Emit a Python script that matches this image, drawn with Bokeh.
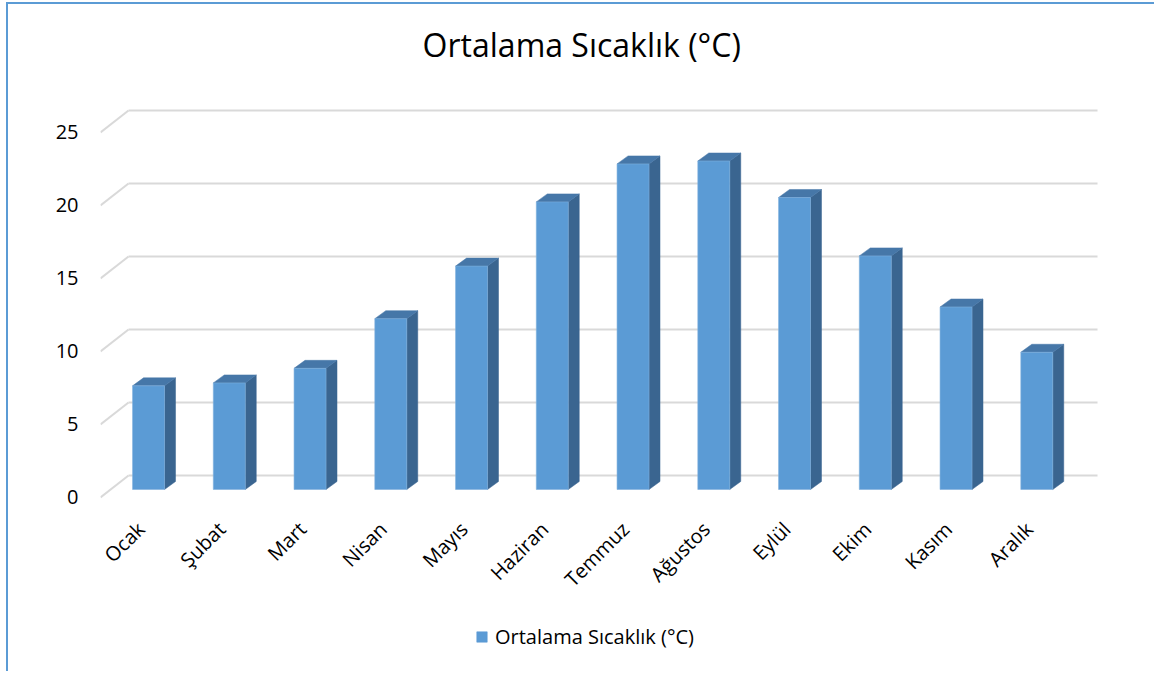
import math
from bokeh.plotting import figure
from bokeh.layouts import column, row
from bokeh.models import (ColumnDataSource, FixedTicker, Legend, LegendItem, Range1d,
                          Spacer, Div)
from bokeh.core.properties import value
from bokeh.embed import file_html
from bokeh.resources import INLINE

# ---- data ----
months = ["Ocak", "Şubat", "Mart", "Nisan", "Mayıs", "Haziran",
          "Temmuz", "Ağustos", "Eylül", "Ekim", "Kasım", "Aralık"]
temps = [7.1, 7.3, 8.3, 11.7, 15.3, 19.7, 22.3, 22.5, 20.0, 16.0, 12.5, 9.4]
y_ticks = [0, 5, 10, 15, 20, 25]
series_name = "Ortalama Sıcaklık (°C)"
chart_title = "Ortalama Sıcaklık (°C)"

# ---- pseudo-3D geometry (in data units) ----
WALL_DX, WALL_DY = 0.347, 1.507     # back wall offset
FRONT_DX, FRONT_DY = 0.095, 0.548   # bar front face offset from front plane
DEPTH_DX, DEPTH_DY = 0.136, 0.548   # bar depth
BAR_W = 0.396

# title placement (layout, in data units of the plot frame)
TITLE_X, TITLE_Y = 5.96, 31.05

FRONT = "#5B9BD5"
TOP = "#4677A8"
SIDE = "#3A6590"
GRID = "#D9D9D9"
BORDER = "#5B9BD5"
FONT = "Open Sans"

p = figure(width=1146, height=615, output_backend="svg", toolbar_location=None,
           x_range=Range1d(0, 12.384), y_range=Range1d(-0.548, 33.767),
           min_border_left=92, min_border_right=54, min_border_top=0,
           min_border_bottom=114)
p.outline_line_color = None
p.grid.visible = False
p.background_fill_color = "white"
p.border_fill_color = "white"

# y axis
ya = p.yaxis[0]
ya.ticker = FixedTicker(ticks=y_ticks)
ya.axis_line_color = None
ya.major_tick_line_color = None
ya.minor_tick_line_color = None
ya.major_tick_out = 0
ya.major_tick_in = 0
ya.minor_tick_out = 0
ya.major_label_standoff = 22
ya.major_label_text_font = FONT
ya.major_label_text_font_size = "20px"
ya.major_label_text_color = "#000000"

# x axis
xa = p.xaxis[0]
xa.ticker = FixedTicker(ticks=[i + 0.5 for i in range(len(months))])
xa.major_label_overrides = {i + 0.5: m for i, m in enumerate(months)}
xa.major_label_orientation = math.pi / 4
xa.axis_line_color = None
xa.major_tick_line_color = None
xa.minor_tick_line_color = None
xa.major_tick_out = 0
xa.major_tick_in = 0
xa.minor_tick_out = 0
xa.major_label_standoff = 20
xa.major_label_text_font = FONT
xa.major_label_text_font_size = "20px"
xa.major_label_text_color = "#000000"

# chart title
p.text(x=[TITLE_X], y=[TITLE_Y], text=[chart_title], text_font=value(FONT),
       text_font_size="32px", text_color="#000000", text_align="center",
       text_baseline="middle")

# back wall gridlines + floor diagonals
n = len(months)
p.segment(x0=[WALL_DX] * len(y_ticks), y0=[t + WALL_DY for t in y_ticks],
          x1=[n + WALL_DX] * len(y_ticks), y1=[t + WALL_DY for t in y_ticks],
          line_color=GRID, line_width=2)
p.segment(x0=[0] * len(y_ticks), y0=y_ticks,
          x1=[WALL_DX] * len(y_ticks), y1=[t + WALL_DY for t in y_ticks],
          line_color=GRID, line_width=2)

# bars
xc = [i + 0.5 + FRONT_DX for i in range(n)]
x0 = [c - BAR_W / 2 for c in xc]
x1 = [c + BAR_W / 2 for c in xc]
base = FRONT_DY
side_xs, side_ys, top_xs, top_ys = [], [], [], []
for a, b, v in zip(x0, x1, temps):
    top = v + base
    side_xs.append([b, b, b + DEPTH_DX, b + DEPTH_DX])
    side_ys.append([base, top, top + DEPTH_DY, base + DEPTH_DY])
    top_xs.append([a, b, b + DEPTH_DX, a + DEPTH_DX])
    top_ys.append([top, top, top + DEPTH_DY, top + DEPTH_DY])

p.patches(xs=side_xs, ys=side_ys, fill_color=SIDE, line_color=SIDE, line_width=0.5)
p.patches(xs=top_xs, ys=top_ys, fill_color=TOP, line_color=TOP, line_width=0.5)
src = ColumnDataSource(dict(x=xc, top=[v + base for v in temps], month=months, temp=temps))
p.vbar(x="x", width=BAR_W, bottom=base, top="top", source=src,
       fill_color=FRONT, line_color="#7FB0DE", line_width=0.6)

# legend strip (own small figure so the legend is not clipped by the plot frame)
pl = figure(width=1146, height=40, output_backend="svg", toolbar_location=None,
            x_range=Range1d(100, 101), y_range=Range1d(100, 101), min_border=0,
            x_axis_location=None, y_axis_location=None)
pl.outline_line_color = None
pl.grid.visible = False
leg_r = pl.vbar(x="x", width=BAR_W, bottom=base, top="top", source=src,
                fill_color=FRONT, line_color=FRONT, line_width=0.6)
legend = Legend(items=[LegendItem(label=series_name, renderers=[leg_r])],
                location=(375, 9), orientation="horizontal",
                border_line_color=None, background_fill_alpha=0,
                glyph_width=13, glyph_height=13, label_standoff=7,
                label_text_font=FONT, label_text_font_size="20px",
                label_text_color="#000000", margin=0, padding=0)
pl.add_layout(legend)

# chart-area border (top and left edges)
top_line = Div(text="", width=1148, height=2, margin=0,
               styles={"background-color": BORDER, "overflow": "hidden"})
left_line = Div(text="", width=2, height=667, margin=0,
                styles={"background-color": BORDER, "overflow": "hidden"})

layout = column(
    Spacer(width=1, height=2, margin=0),
    row(Spacer(width=6, height=2, margin=0), top_line),
    row(Spacer(width=6, height=10, margin=0), left_line, column(p, pl)),
)

open("out.html", "w").write(file_html(layout, INLINE))
